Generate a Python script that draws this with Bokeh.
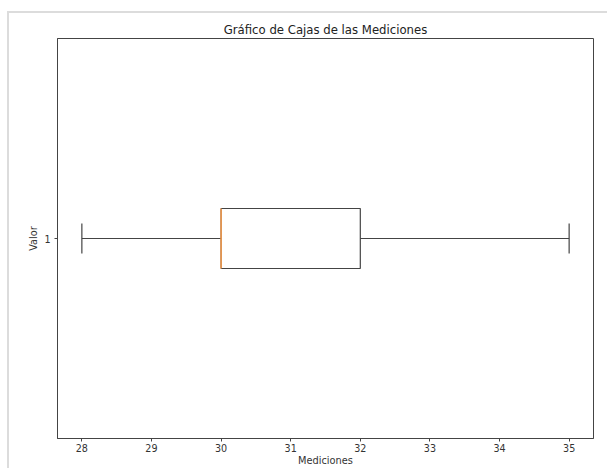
from bokeh.plotting import figure
from bokeh.models import FixedTicker, Range1d
from bokeh.embed import file_html
from bokeh.resources import INLINE

# ---- data (box-plot summary of "Mediciones") ----
positions = [1]
whisker_low = [28]
q1 = [30]
median = [30]
q3 = [32]
whisker_high = [35]
x_ticks = [28, 29, 30, 31, 32, 33, 34, 35]
y_ticks = [1]

title_text = "Gráfico de Cajas de las Mediciones"
x_label = "Mediciones"
y_label = "Valor"

# ---- styles ----
BOX_W = 0.15
CAP_W = BOX_W / 2
LINE = "#444444"
ORANGE = "#f89a48"
FONT = "DejaVu Sans"

p = figure(width=607, height=468, output_backend="svg", toolbar_location=None,
           x_range=Range1d(27.65, 35.35), y_range=Range1d(0.5, 1.5),
           min_border_left=57, min_border_right=14, min_border_top=38,
           min_border_bottom=30)
p.border_fill_alpha = 0
p.background_fill_color = "white"
p.styles = {
    "background": "linear-gradient(#dcdcdc,#dcdcdc) 7px 11px / 100% 2px no-repeat, "
                  "linear-gradient(#dcdcdc,#dcdcdc) 7px 11px / 2px 100% no-repeat, white"
}

p.title.text = title_text
p.title.align = "center"
p.title.text_font = FONT
p.title.text_font_size = "11.7px"
p.title.text_font_style = "normal"
p.title.text_color = "#222222"
p.title.standoff = 4

p.grid.visible = False
p.outline_line_color = LINE
p.outline_line_width = 1

for ax in (p.xaxis[0], p.yaxis[0]):
    ax.axis_line_color = LINE
    ax.major_tick_line_color = LINE
    ax.major_tick_out = 3
    ax.major_tick_in = 0
    ax.minor_tick_line_color = None
    ax.major_label_text_font = FONT
    ax.major_label_text_font_size = "9.6px"
    ax.major_label_text_color = "#333333"
    ax.axis_label_text_font = FONT
    ax.axis_label_text_font_size = "9.8px"
    ax.axis_label_text_font_style = "normal"
    ax.axis_label_text_color = "#333333"

p.xaxis.ticker = FixedTicker(ticks=x_ticks)
p.yaxis.ticker = FixedTicker(ticks=y_ticks)
p.xaxis.axis_label = x_label
p.yaxis.axis_label = y_label
p.xaxis.major_label_standoff = 2
p.xaxis.axis_label_standoff = 0
p.yaxis.major_label_standoff = 4
p.yaxis.axis_label_standoff = 2

# whiskers
p.segment(x0=whisker_low, y0=positions, x1=q1, y1=positions, line_color=LINE, line_width=1.2)
p.segment(x0=q3, y0=positions, x1=whisker_high, y1=positions, line_color=LINE, line_width=1.2)
# caps
cap_lo = [y - CAP_W / 2 for y in positions]
cap_hi = [y + CAP_W / 2 for y in positions]
p.segment(x0=whisker_low, y0=cap_lo, x1=whisker_low, y1=cap_hi, line_color=LINE, line_width=1.2)
p.segment(x0=whisker_high, y0=cap_lo, x1=whisker_high, y1=cap_hi, line_color=LINE, line_width=1.2)
# box
p.hbar(y=positions, left=q1, right=q3, height=BOX_W, fill_alpha=0,
       line_color=LINE, line_width=1.2)
# median
med_lo = [y - BOX_W / 2 for y in positions]
med_hi = [y + BOX_W / 2 for y in positions]
p.segment(x0=median, y0=med_lo, x1=median, y1=med_hi, line_color=ORANGE, line_width=1.5)

open("out.html", "w").write(file_html(p, INLINE))
